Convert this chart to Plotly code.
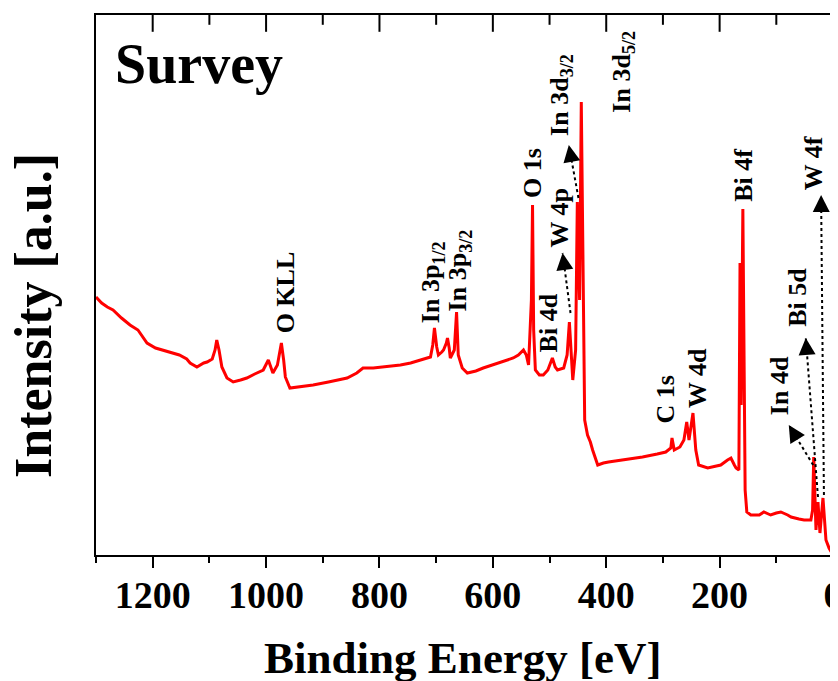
import math
import plotly.graph_objects as go

# ---- spectrum (binding energy in eV, intensity in a.u.) ----
energy = [1300, 1290, 1280, 1270, 1255, 1240, 1226, 1218, 1210, 1195, 1182, 1165, 1153, 1140,
          1134, 1122, 1110, 1104, 1095, 1090, 1087, 1083, 1078, 1069, 1058, 1045, 1034, 1020,
          1005, 996, 990, 988, 980, 973, 969, 966, 958, 940, 917, 890, 857, 840, 829, 811,
          790, 763, 745, 728, 715, 710, 706, 703, 699, 696, 690, 687, 682, 680, 677, 675,
          668, 664, 661, 654, 645, 630, 617, 600, 587, 575, 564, 555, 549, 546, 541, 537,
          532, 530, 528, 525, 518, 511, 503, 495, 490, 486, 475, 469, 465, 461, 459, 454,
          451, 447, 444, 438, 433, 428, 424, 415, 405, 396, 370, 336, 310, 295, 286, 284,
          280, 270, 263, 258, 254, 247, 242, 237, 221, 198, 186, 180, 174, 171, 166, 164,
          162, 159, 155, 152, 145, 130, 122, 110, 100, 92, 80, 74, 60, 51, 39, 36, 34, 30,
          26.5, 23, 17.7, 12.4, 7, 0]
intensity = [258, 252, 248, 245, 237, 230, 225, 218, 212, 207, 205, 202, 200, 196,
             192, 188, 192, 193, 196, 205, 215, 205, 188, 177, 173, 175, 177, 181,
             185, 195, 185, 182, 190, 212, 195, 178, 167, 168, 170, 173, 177, 182, 187, 187,
             188, 190, 192, 195, 197, 198, 210, 227, 208, 200, 203, 205, 212, 217, 207, 197,
             205, 243, 200, 187, 182, 184, 187, 190, 193, 195, 197, 200, 204, 205, 200, 190,
             255, 350, 225, 185, 180, 180, 185, 197, 188, 185, 187, 200, 233, 200, 175, 205,
             353, 255, 453, 135, 120, 113, 105, 90, 92, 93, 95, 98, 101, 103, 107, 117,
             105, 108, 115, 133, 115, 142, 105, 90, 87, 90, 95, 97, 90, 87, 85, 292,
             150, 346, 65, 43, 40, 40, 43, 40, 42, 43, 40, 38, 36, 35, 35, 45, 98, 25,
             53, 22, 57, 15, 7, 0]

# ---- peak labels ----
label_text = ["O KLL", "In 3p<sub>1/2</sub>", "In 3p<sub>3/2</sub>", "O 1s", "Bi 4d", "W 4p",
              "In 3d<sub>3/2</sub>", "In 3d<sub>5/2</sub>", "C 1s", "W 4d", "Bi 4f",
              "In 4d", "Bi 5d", "W 4f"]
label_e = [966, 707, 659, 531, 502, 484, 480, 371, 297, 240, 159, 95, 64, 35]
label_i = [263, 273, 285, 382, 232, 337, 460, 483, 155, 177, 380, 169, 258, 392]

# ---- dotted arrows: tail (at peak) -> head (near label) ----
arrow_tail_e = [463, 449, 35, 26.5, 16]
arrow_tail_i = [242, 357, 90, 58, 60]
arrow_head_e = [477, 466, 78, 48, 21]
arrow_head_i = [302, 410, 130, 217, 360]

x_ticks = [0, 200, 400, 600, 800, 1000, 1200]
x_minor_ticks = [100, 300, 500, 700, 900, 1100]
x_range = [1300, 0]
y_range = [0, 540]

W, H = 838, 681
OFF = 8  # page body margin in the browser
ML, MR, MT, MB = 96 - OFF, 13, 15 - OFF, 134
SERIF = "Liberation Serif"
PW, PH = W - ML - MR, H - MT - MB


def paper_x(px):
    return (px - OFF - ML) / PW


def paper_y(py):
    return 1 - (py - OFF - MT) / PH


fig = go.Figure()
fig.add_trace(go.Scatter(x=energy, y=intensity, mode="lines",
                         line=dict(color="#ff0000", width=3),
                         showlegend=False, hoverinfo="skip"))

# inward tick marks on the top frame (half of each marker is clipped by the plot area)
fig.add_trace(go.Scatter(x=x_ticks, y=[y_range[1]] * len(x_ticks), mode="markers",
                         marker=dict(symbol="line-ns", size=24,
                                     line=dict(width=2, color="black")),
                         showlegend=False, hoverinfo="skip", cliponaxis=True))
fig.add_trace(go.Scatter(x=x_minor_ticks, y=[y_range[1]] * len(x_minor_ticks),
                         mode="markers",
                         marker=dict(symbol="line-ns", size=14,
                                     line=dict(width=2, color="black")),
                         showlegend=False, hoverinfo="skip", cliponaxis=True))

px_per_e = PW / abs(x_range[0] - x_range[1])
px_per_i = PH / (y_range[1] - y_range[0])

annotations = []
for te, ti, he, hi in zip(arrow_tail_e, arrow_tail_i, arrow_head_e, arrow_head_i):
    fig.add_trace(go.Scatter(x=[te, he], y=[ti, hi], mode="lines",
                             line=dict(color="black", width=2, dash="dot"),
                             showlegend=False, hoverinfo="skip"))
    d = math.hypot((he - te) * px_per_e, (hi - ti) * px_per_i)
    f = 9.0 / d
    annotations.append(dict(x=he, y=hi, ax=he + (te - he) * f, ay=hi + (ti - hi) * f,
                            xref="x", yref="y", axref="x", ayref="y", text="",
                            showarrow=True, arrowhead=2, arrowsize=1.7, arrowwidth=2,
                            arrowcolor="black"))

for t, e, i in zip(label_text, label_e, label_i):
    annotations.append(dict(x=e, y=i, xref="x", yref="y", text=t, showarrow=False,
                            textangle=-90, xanchor="center", yanchor="middle",
                            font=dict(family=SERIF, size=26, color="black", weight="bold")))

annotations.append(dict(x=paper_x(113), y=paper_y(64), xref="paper", yref="paper",
                        text="Survey", showarrow=False, xanchor="left", yanchor="middle",
                        font=dict(family=SERIF, size=56, color="black", weight="bold")))
annotations.append(dict(x=paper_x(463), y=paper_y(658), xref="paper", yref="paper",
                        text="Binding Energy [eV]", showarrow=False, xanchor="center",
                        yanchor="middle",
                        font=dict(family=SERIF, size=45, color="black", weight="bold")))
annotations.append(dict(x=paper_x(33), y=paper_y(316), xref="paper", yref="paper",
                        text="Intensity [a.u.]", showarrow=False, textangle=-90,
                        xanchor="center", yanchor="middle",
                        font=dict(family=SERIF, size=52, color="black", weight="bold")))

fig.update_layout(
    width=W, height=H,
    margin=dict(l=ML, r=MR, t=MT, b=MB, autoexpand=False),
    paper_bgcolor="white", plot_bgcolor="white",
    annotations=annotations,
    xaxis=dict(range=x_range, tickmode="array", tickvals=x_ticks, ticks="outside",
               ticklen=11, tickwidth=2, tickcolor="black", showline=True, linewidth=2,
               linecolor="black", mirror=True, showgrid=False, zeroline=False,
               automargin=False, ticklabelstandoff=-6,
               minor=dict(dtick=100, tick0=0, ticks="outside", ticklen=6, tickwidth=2,
                          tickcolor="black", showgrid=False),
               tickfont=dict(family=SERIF, size=38, color="black", weight="bold")),
    yaxis=dict(range=y_range, showticklabels=False, ticks="", showline=True, linewidth=2,
               linecolor="black", mirror=True, showgrid=False, zeroline=False,
               automargin=False),
)

fig.write_html("out.html")
